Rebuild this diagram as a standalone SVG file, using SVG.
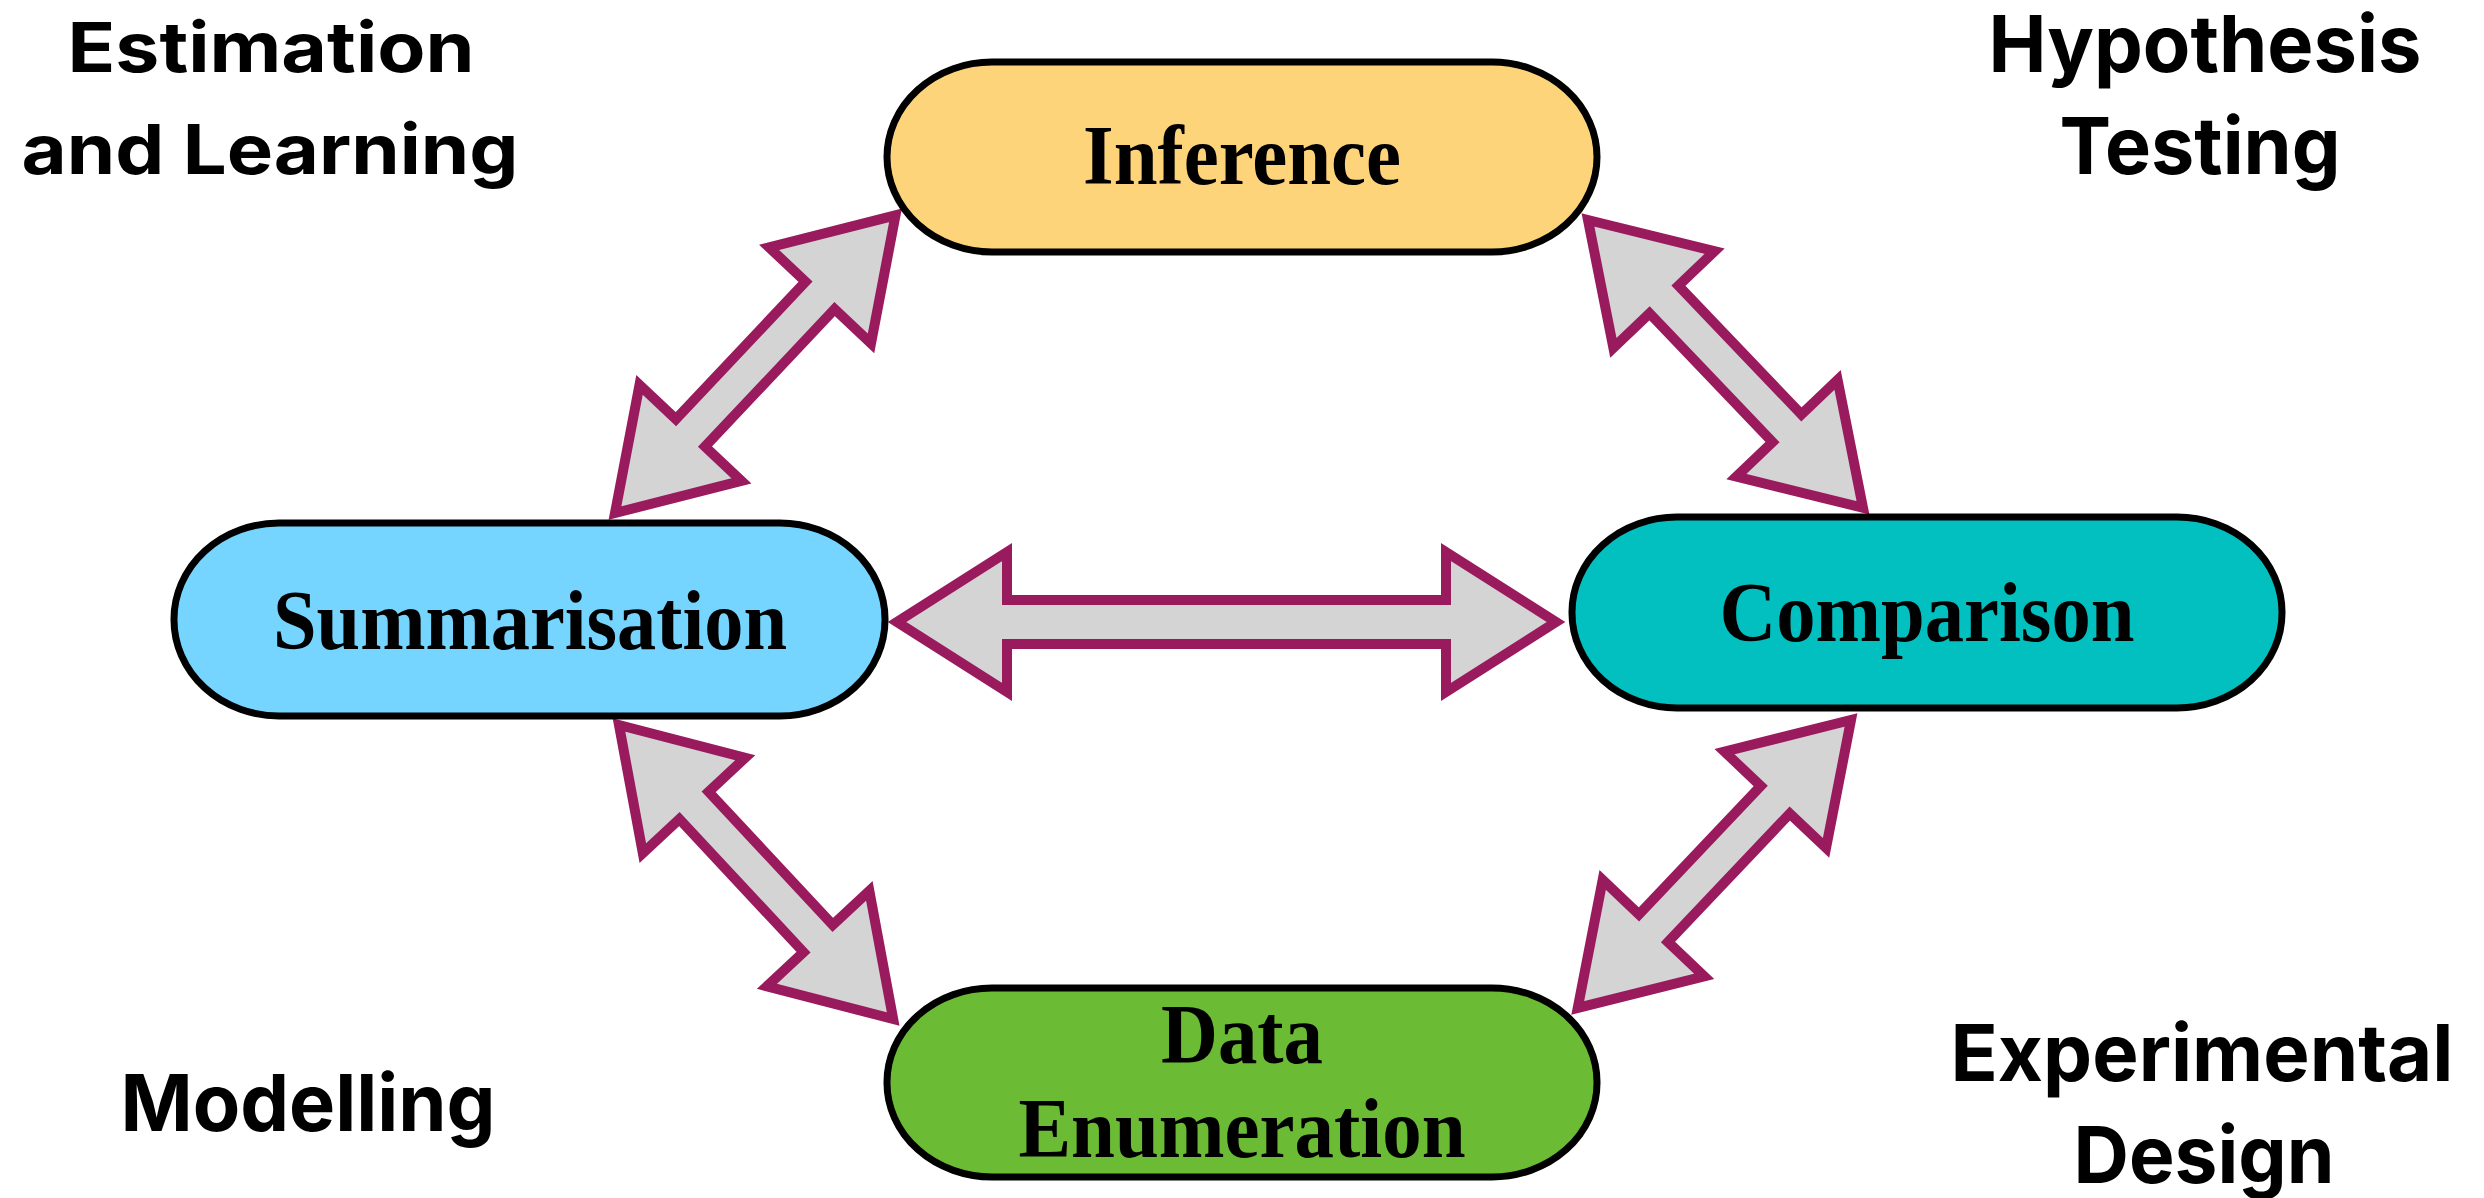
<svg xmlns="http://www.w3.org/2000/svg" width="2484" height="1198" viewBox="0 0 2484 1198">
  <style>
    .node { stroke: #000; stroke-width: 7; }
    .node-label { font-family: "Liberation Serif", "Times New Roman", serif; font-weight: bold; font-size: 84px; fill: #000; text-anchor: middle; }
    .area { font-family: Inter, "Noto Sans", sans-serif; font-weight: 700; fill: #000; text-anchor: middle; }
    .link { fill: #d4d4d4; stroke: #9a1a5e; stroke-width: 10; stroke-linejoin: miter; stroke-miterlimit: 10; }
  </style>
  <rect width="2484" height="1198" fill="#fff"/>

  <!-- double-headed block arrows between the four activities -->
  <g id="connectors">
    <path class="link" transform="translate(897,622)" d="M0,0 L110,-70 L110,-22 L549,-22 L549,-70 L659,0 L549,70 L549,22 L110,22 L110,70 Z"/>
    <path class="link" transform="translate(615,513) rotate(-46.7)" d="M0,0 L110,-70 L110,-20 L299,-20 L299,-70 L409,0 L299,70 L299,20 L110,20 L110,70 Z"/>
    <path class="link" transform="translate(1588,220) rotate(46.3)" d="M0,0 L110,-70 L110,-20 L288,-20 L288,-70 L398,0 L288,70 L288,20 L110,20 L110,70 Z"/>
    <path class="link" transform="translate(619,725) rotate(47)" d="M0,0 L110,-70 L110,-20 L292,-20 L292,-70 L402,0 L292,70 L292,20 L110,20 L110,70 Z"/>
    <path class="link" transform="translate(1851,720) rotate(133.5)" d="M0,0 L110,-70 L110,-20 L287,-20 L287,-70 L397,0 L287,70 L287,20 L110,20 L110,70 Z"/>
  </g>

  <g id="inference">
    <rect class="node" x="887" y="62" width="710" height="190" rx="105" ry="95" fill="#fed47a"/>
    <text class="node-label" x="1242" y="184" textLength="318" lengthAdjust="spacingAndGlyphs">Inference</text>
  </g>

  <g id="summarisation">
    <rect class="node" x="174" y="523" width="711" height="193" rx="105" ry="96" fill="#76d5fe"/>
    <text class="node-label" x="530" y="649" textLength="514" lengthAdjust="spacingAndGlyphs">Summarisation</text>
  </g>

  <g id="comparison">
    <rect class="node" x="1572" y="517" width="710" height="191" rx="105" ry="95" fill="#02bfc0"/>
    <text class="node-label" x="1927" y="641" textLength="415" lengthAdjust="spacingAndGlyphs">Comparison</text>
  </g>

  <g id="data-enumeration">
    <rect class="node" x="887" y="988" width="710" height="189" rx="105" ry="94" fill="#6bbb35"/>
    <text class="node-label" x="1242" y="1063" textLength="162" lengthAdjust="spacingAndGlyphs">Data</text>
    <text class="node-label" x="1242" y="1157" textLength="447" lengthAdjust="spacingAndGlyphs">Enumeration</text>
  </g>

  <!-- corner captions -->
  <g id="estimation-and-learning">
    <text class="area" x="271" y="72" font-size="69" textLength="407" lengthAdjust="spacingAndGlyphs">Estimation</text>
    <text class="area" x="270" y="174" font-size="69" textLength="497" lengthAdjust="spacingAndGlyphs">and Learning</text>
  </g>
  <g id="hypothesis-testing">
    <text class="area" x="2205" y="72" font-size="79" textLength="433" lengthAdjust="spacingAndGlyphs">Hypothesis</text>
    <text class="area" x="2200" y="174" font-size="79" textLength="281" lengthAdjust="spacingAndGlyphs">Testing</text>
  </g>
  <g id="modelling">
    <text class="area" x="308" y="1131" font-size="79" textLength="375" lengthAdjust="spacingAndGlyphs">Modelling</text>
  </g>
  <g id="experimental-design">
    <text class="area" x="2202" y="1081" font-size="79" textLength="503" lengthAdjust="spacingAndGlyphs">Experimental</text>
    <text class="area" x="2204" y="1183" font-size="79" textLength="261" lengthAdjust="spacingAndGlyphs">Design</text>
  </g>
</svg>
